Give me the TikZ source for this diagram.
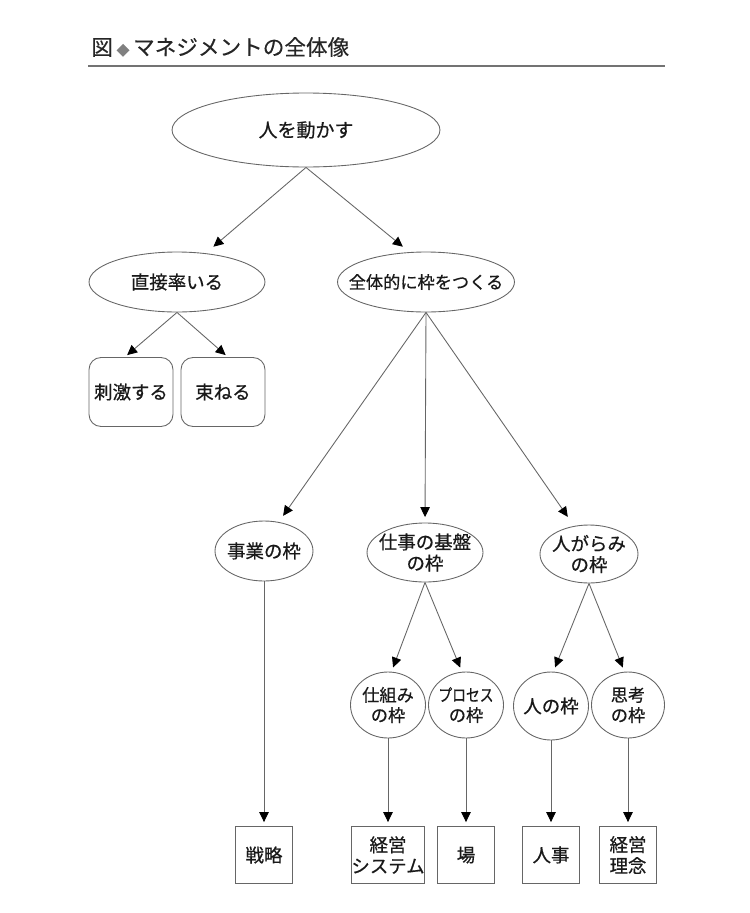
\documentclass[tikz,border=0pt]{standalone}
\usepackage{fontspec}
\setmainfont{Noto Sans CJK JP}[FakeBold=0.6]
\newfontfamily\titlefont{Noto Sans CJK JP}[FakeBold=0.2]
\usetikzlibrary{shapes.geometric,arrows.meta}
\begin{document}
\begin{tikzpicture}[x=0.02cm,y=-0.02cm,
    txt/.style={font=\fontsize{10.5}{12}\selectfont,align=center,text=black!90,inner sep=0pt},
    stxt/.style={font=\fontsize{9.8}{11.5}\selectfont,align=center,text=black!90,inner sep=0pt},
    oval/.style={draw=black!60,line width=0.5pt,ellipse,inner sep=0pt},
    rbox/.style={draw=black!60,line width=0.5pt,rounded corners=0.24cm,minimum width=1.68cm,minimum height=1.38cm,txt},
    sbox/.style={draw=black!60,line width=0.5pt,minimum width=1.14cm,minimum height=1.14cm,txt},
    link/.style={draw=black!60,line width=0.5pt,-{Triangle[length=0.2cm,width=0.19cm,color=black]},shorten >=#1},
    link/.default=0.08cm]
    \useasboundingbox (0,0) rectangle (750,913);
    \node[anchor=west,font=\titlefont\fontsize{12.3}{14}\selectfont,text=black!85,inner sep=0pt] (title) at (91,47) {図\,{\color{black!50}\scalebox{0.6}{◆}}\,マネジメントの全体像};
    \draw[black!55,line width=0.6pt] (88,66) -- (665,66);
    \node[oval,minimum width=5.36cm,minimum height=1.48cm,label={[txt,font=\fontsize{10.8}{12}\selectfont]center:人を動かす}] (move) at (306,130) {};
    \node[oval,minimum width=3.52cm,minimum height=1.2cm,label={[txt]center:直接率いる}] (direct) at (177,282) {};
    \node[oval,minimum width=3.54cm,minimum height=1.2cm,label={[stxt]center:全体的に枠をつくる}] (frame) at (426,282) {};
    \node[rbox] (stim) at (131,392) {刺激する};
    \node[rbox] (bundle) at (223,392) {束ねる};
    \node[oval,minimum width=1.96cm,minimum height=1.2cm,label={[txt]center:事業の枠}] (biz) at (264,551) {};
    \node[oval,minimum width=2.32cm,minimum height=1.18cm,label={[txt]center:仕事の基盤\\の枠}] (base) at (425,552.5) {};
    \node[oval,minimum width=1.96cm,minimum height=1.16cm,label={[txt]center:人がらみ\\の枠}] (people) at (589,554) {};
    \node[oval,minimum width=1.5cm,minimum height=1.32cm,label={[stxt]center:仕組み\\の枠}] (mech) at (388,705) {};
    \node[oval,minimum width=1.5cm,minimum height=1.32cm,label={[stxt]center:\scalebox{0.8}[1]{プロセス}\\の枠}] (proc) at (466,705) {};
    \node[oval,minimum width=1.5cm,minimum height=1.36cm,label={[txt]center:人の枠}] (pframe) at (551,706) {};
    \node[oval,minimum width=1.46cm,minimum height=1.32cm,label={[stxt]center:思考\\の枠}] (think) at (628,705) {};
    \node[sbox] (strat) at (264,855) {戦略};
    \node[sbox,minimum width=1.34cm] (msys) at (388,855) {経営\\システム};
    \node[sbox] (place) at (466,855) {場};
    \node[sbox] (hr) at (551,855) {人事};
    \node[sbox] (phil) at (628,855) {経営\\理念};
    \draw[link=0.2cm] (move.south) -- (direct.45);
    \draw[link=0.17cm] (move.south) -- (frame.119);
    \draw[link=0.06cm] (direct.south) -- (stim.100);
    \draw[link=0.06cm] (direct.south) -- (bundle.82);
    \draw[link=0.15cm] (frame.south) -- (biz.63);
    \draw[link=0.11cm] (frame.south) -- (base.north);
    \draw[link=0.22cm] (frame.south) -- (people.118);
    \draw[link=0.09cm] (base.south) -- (mech.84);
    \draw[link=0.09cm] (base.south) -- (proc.97);
    \draw[link=0.09cm] (people.south) -- (pframe.86);
    \draw[link=0.09cm] (people.south) -- (think.96);
    \draw[link] (biz.south) -- (strat);
    \draw[link] (mech.south) -- (msys);
    \draw[link] (proc.south) -- (place);
    \draw[link] (pframe.south) -- (hr);
    \draw[link] (think.south) -- (phil);
  \end{tikzpicture}
\end{document}
